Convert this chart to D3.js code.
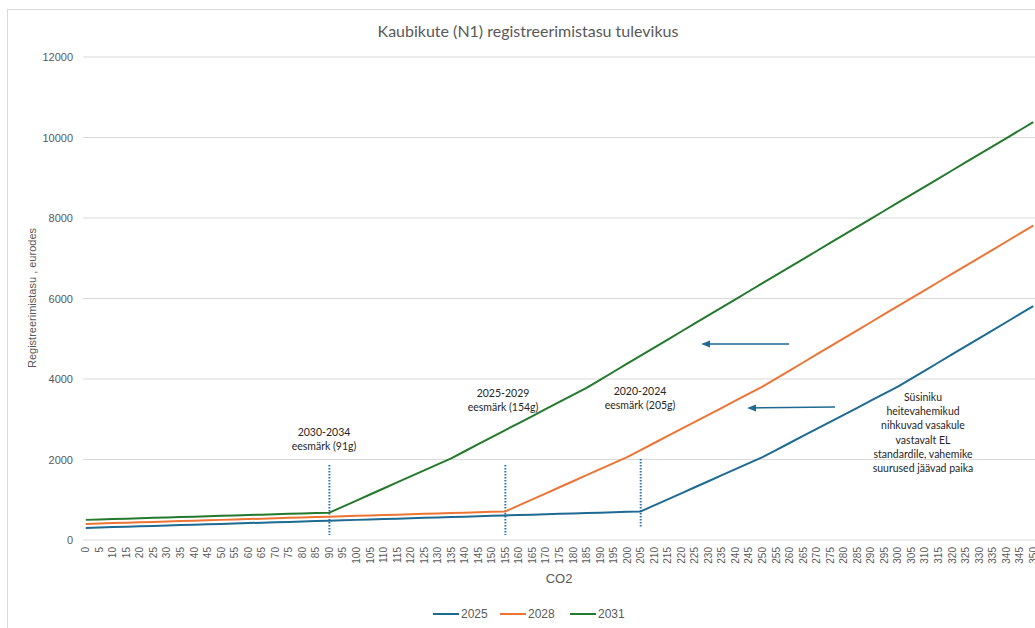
<!DOCTYPE html>
<html>
<head>
<meta charset="utf-8">
<script src="https://cdn.jsdelivr.net/npm/d3@7"></script>
<style>
  body { margin: 0; background: #fff; }
  svg { display: block; }
</style>
</head>
<body>
<div class="chart"></div>
<script>
"use strict";

// CO2 categories (g/km), step 5
const co2 = [
  0, 5, 10, 15, 20, 25, 30, 35, 40, 45, 50, 55, 60, 65, 70, 75, 80, 85, 90, 95,
  100, 105, 110, 115, 120, 125, 130, 135, 140, 145, 150, 155, 160, 165, 170, 175, 180, 185, 190, 195,
  200, 205, 210, 215, 220, 225, 230, 235, 240, 245, 250, 255, 260, 265, 270, 275, 280, 285, 290, 295,
  300, 305, 310, 315, 320, 325, 330, 335, 340, 345, 350
];

const fee2025 = [
  300, 310, 320, 330, 340, 350, 360, 370, 380, 390, 400, 410, 420, 430, 440, 450, 460, 470, 480, 490,
  500, 510, 520, 530, 540, 550, 560, 570, 580, 590, 600, 610, 620, 630, 640, 650, 660, 670, 680, 690,
  700, 710, 860, 1010, 1160, 1310, 1460, 1610, 1760, 1910, 2060, 2235, 2410, 2585, 2760, 2935, 3110, 3285, 3460, 3635,
  3810, 4010, 4210, 4410, 4610, 4810, 5010, 5210, 5410, 5610, 5810
];

const fee2028 = [
  400, 410, 420, 430, 440, 450, 460, 470, 480, 490, 500, 510, 520, 530, 540, 550, 560, 570, 580, 590,
  600, 610, 620, 630, 640, 650, 660, 670, 680, 690, 700, 710, 860, 1010, 1160, 1310, 1460, 1610, 1760, 1910,
  2060, 2235, 2410, 2585, 2760, 2935, 3110, 3285, 3460, 3635, 3810, 4010, 4210, 4410, 4610, 4810, 5010, 5210, 5410, 5610,
  5810, 6010, 6210, 6410, 6610, 6810, 7010, 7210, 7410, 7610, 7810
];

const fee2031 = [
  500, 510, 520, 530, 540, 550, 560, 570, 580, 590, 600, 610, 620, 630, 640, 650, 660, 670, 680, 830,
  980, 1130, 1280, 1430, 1580, 1730, 1880, 2030, 2205, 2380, 2555, 2730, 2905, 3080, 3255, 3430, 3605, 3780, 3980, 4180,
  4380, 4580, 4780, 4980, 5180, 5380, 5580, 5780, 5980, 6180, 6380, 6580, 6780, 6980, 7180, 7380, 7580, 7780, 7980, 8180,
  8380, 8580, 8780, 8980, 9180, 9380, 9580, 9780, 9980, 10180, 10380
];

const seriesNames = ["2025", "2028", "2031"];
const yTicks = [0, 2000, 4000, 6000, 8000, 10000, 12000];

// target markers: category where the dotted line stands + two label lines
const targetCats = [90, 155, 205];
const targetPeriods = ["2030-2034", "2025-2029", "2020-2024"];
const targetLabels = ["eesmärk (91g)", "eesmärk (154g)", "eesmärk (205g)"];

const noteLines = [
  "Süsiniku",
  "heitevahemikud",
  "nihkuvad vasakule",
  "vastavalt EL",
  "standardile, vahemike",
  "suurused jäävad paika"
];

const colors = ["#1d6a92", "#ec7535", "#23792c"];

function drawChart() {
  const width = 1035;
  const height = 628;

  const svg = d3.select(".chart")
    .append("svg")
      .attr("width", width)
      .attr("height", height);

  svg.append("defs")
    .append("marker")
      .attr("id", "arrow")
      .attr("viewBox", "0 0 10 10")
      .attr("refX", 8)
      .attr("refY", 5)
      .attr("markerUnits", "userSpaceOnUse")
      .attr("markerWidth", 9)
      .attr("markerHeight", 9)
      .attr("orient", "auto")
    .append("path")
      .attr("d", "M0,1 L10,5 L0,9 z")
      .attr("fill", "#1d6a92");

  // chart border
  svg.append("rect")
    .attr("x", 7.5)
    .attr("y", 9.5)
    .attr("width", 1040)
    .attr("height", 640)
    .attr("fill", "none")
    .attr("stroke", "#d9d9d9");

  const xScale = d3.scaleBand()
    .domain(co2)
    .range([79, 1040]);

  const yScale = d3.scaleLinear()
    .domain([0, 12000])
    .range([540, 57]);

  const xc = c => xScale(c) + xScale.bandwidth() / 2;

  // title
  svg.append("text")
    .attr("x", 528)
    .attr("y", 37)
    .attr("text-anchor", "middle")
    .attr("font-family", "Lato, sans-serif")
    .attr("font-size", 16)
    .attr("fill", "#595959")
    .text("Kaubikute (N1) registreerimistasu tulevikus");

  // horizontal gridlines
  svg.append("g")
    .selectAll("line")
    .data(yTicks)
    .join("line")
      .attr("x1", 83)
      .attr("x2", 1040)
      .attr("y1", d => yScale(d))
      .attr("y2", d => yScale(d))
      .attr("stroke", "#d9d9d9")
      .attr("stroke-width", 1);

  // y axis
  const yAxis = d3.axisLeft(yScale)
    .tickValues(yTicks)
    .tickFormat(d3.format("d"))
    .tickSize(0)
    .tickPadding(10);

  svg.append("g")
    .attr("class", "axis-y")
    .attr("transform", "translate(83, 0)")
    .call(yAxis)
    .call(g => g.select(".domain").remove())
    .selectAll("text")
      .attr("font-family", "'Liberation Sans', Arial, sans-serif")
      .attr("font-size", 11)
      .attr("fill", "#595959");

  // x axis
  const xAxis = d3.axisBottom(xScale)
    .tickSize(0);

  svg.append("g")
    .attr("class", "axis-x")
    .attr("transform", `translate(0, ${yScale(0)})`)
    .call(xAxis)
    .call(g => g.select(".domain").remove())
    .selectAll("text")
      .attr("font-family", "'Liberation Sans', Arial, sans-serif")
      .attr("font-size", 10)
      .attr("fill", "#595959")
      .attr("y", 0)
      .attr("x", -7)
      .attr("dy", "0.35em")
      .attr("transform", "rotate(-90)")
      .style("text-anchor", "end");

  // axis titles
  svg.append("text")
    .attr("transform", "translate(36, 298) rotate(-90)")
    .attr("text-anchor", "middle")
    .attr("font-family", "'Liberation Sans', Arial, sans-serif")
    .attr("font-size", 11)
    .attr("fill", "#595959")
    .text("Registreerimistasu , eurodes");

  svg.append("text")
    .attr("x", 559)
    .attr("y", 583)
    .attr("text-anchor", "middle")
    .attr("font-family", "'Liberation Sans', Arial, sans-serif")
    .attr("font-size", 13)
    .attr("fill", "#595959")
    .text("CO2");

  // dotted target lines
  svg.append("g")
    .selectAll("line")
    .data(targetCats)
    .join("line")
      .attr("x1", d => xc(d))
      .attr("x2", d => xc(d))
      .attr("y1", (d, i) => i === 2 ? 459 : 465)
      .attr("y2", (d, i) => i === 2 ? 528 : 535)
      .attr("stroke", "#2e75b6")
      .attr("stroke-width", 2)
      .attr("stroke-dasharray", "1.5,1.5");

  // lines
  const series = [fee2025, fee2028, fee2031];
  const lineGenerator = d3.line()
    .x((d, i) => xc(co2[i]))
    .y(d => yScale(d));

  svg.append("g")
    .selectAll("path")
    .data(series)
    .join("path")
      .attr("d", d => lineGenerator(d))
      .attr("fill", "none")
      .attr("stroke", (d, i) => colors[i])
      .attr("stroke-width", 2)
      .attr("stroke-linejoin", "round");

  // target labels
  const labelPos = [[324, 436], [503, 397], [640, 395]];
  const tl = svg.append("g")
    .selectAll("text")
    .data(targetCats)
    .join("text")
      .attr("x", (d, i) => labelPos[i][0])
      .attr("y", (d, i) => labelPos[i][1])
      .attr("text-anchor", "middle")
      .attr("font-family", "Lato, sans-serif")
      .attr("font-size", 10.5)
      .attr("fill", "#262626");

  tl.append("tspan")
    .attr("x", (d, i) => labelPos[i][0])
    .text((d, i) => targetPeriods[i]);

  tl.append("tspan")
    .attr("x", (d, i) => labelPos[i][0])
    .attr("dy", 14)
    .text((d, i) => targetLabels[i]);

  // arrows
  const arrows = [[789, 344, 703, 344], [835, 407, 749, 408]];
  svg.append("g")
    .selectAll("line")
    .data(arrows)
    .join("line")
      .attr("x1", d => d[0])
      .attr("y1", d => d[1])
      .attr("x2", d => d[2])
      .attr("y2", d => d[3])
      .attr("stroke", "#1d6a92")
      .attr("stroke-width", 1.5)
      .attr("marker-end", "url(#arrow)");

  // note text
  svg.append("g")
    .selectAll("text")
    .data(noteLines)
    .join("text")
      .attr("x", 923)
      .attr("y", (d, i) => 401 + i * 14.2)
      .attr("text-anchor", "middle")
      .attr("font-family", "Lato, sans-serif")
      .attr("font-size", 10.5)
      .attr("fill", "#262626")
      .text(d => d);

  // legend
  const legendX = [433, 500, 570];
  const legend = svg.append("g")
    .selectAll("g")
    .data(seriesNames)
    .join("g")
      .attr("transform", (d, i) => `translate(${legendX[i]}, 614)`);

  legend.append("line")
    .attr("x1", 0)
    .attr("x2", 26)
    .attr("stroke", (d, i) => colors[i])
    .attr("stroke-width", 2);

  legend.append("text")
    .attr("x", 28)
    .attr("dy", "0.35em")
    .attr("font-family", "'Liberation Sans', Arial, sans-serif")
    .attr("font-size", 12)
    .attr("fill", "#595959")
    .text(d => d);
}

drawChart();
</script>
</body>
</html>
